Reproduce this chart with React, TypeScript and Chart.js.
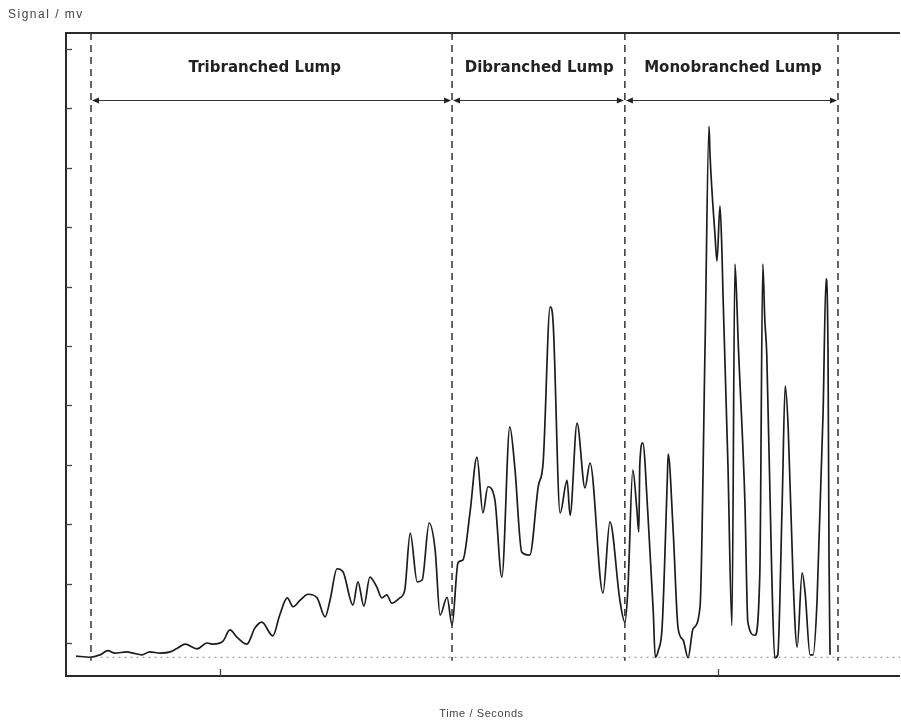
import React, { useEffect, useRef } from "react";
import { Chart, registerables } from "chart.js";

Chart.register(...registerables);

// Time (s) and signal (mV, arbitrary units)
const TIME = [
  21.1, 23.9, 25.9, 27.5, 28.9, 31.3, 32.5, 34.3, 35.9, 38.0, 40.0, 41.6, 43.0, 45.4, 47.4, 48.6,
  50.6, 52.0, 53.4, 55.4, 57.0, 58.4, 60.6, 62.0, 63.5, 64.7, 66.1, 67.7, 69.5, 71.1, 72.1, 73.5,
  74.7, 76.7, 77.7, 78.9, 80.1, 81.5, 82.5, 83.5, 84.5, 86.1, 87.1, 88.2, 89.6, 90.6, 92.0, 93.2,
  94.2, 95.6, 96.6, 97.8, 98.8, 100.2, 101.6, 102.8, 103.8, 105.2, 106.6, 108.2, 109.2, 110.6,
  112.2, 113.9, 114.9, 116.3, 116.9, 118.3, 119.7, 120.3, 121.7, 123.3, 124.3, 126.9, 128.3,
  130.3, 131.3, 131.9, 132.9, 133.7, 134.1, 134.3, 134.9, 135.9, 137.0, 137.4, 138.0, 138.8,
  139.8, 140.0, 141.0, 142.0, 143.0, 144.0, 145.0, 146.4, 147.4, 148.2, 148.4, 149.4, 149.8,
  150.4, 150.8, 151.0, 152.0, 152.8, 153.4, 153.8, 154.0, 155.4, 156.0, 157.4, 158.4, 159.0,
  159.4, 159.8, 160.8, 161.4, 162.0, 162.9, 163.5, 164.1, 165.1, 165.9, 166.9, 167.5, 168.5,
  169.1, 169.9, 171.1, 171.7, 172.1, 172.3, 172.5,
];
const SIGNAL = [
  -0.22, -0.24, -0.2, -0.13, -0.17, -0.15, -0.17, -0.2, -0.15, -0.17, -0.15, -0.08, -0.02, -0.1,
  0.0, -0.02, 0.03, 0.22, 0.1, -0.02, 0.25, 0.35, 0.12, 0.47, 0.76, 0.61, 0.72, 0.82, 0.76, 0.44,
  0.72, 1.25, 1.2, 0.64, 1.03, 0.62, 1.11, 0.94, 0.76, 0.81, 0.67, 0.76, 0.89, 1.85, 1.03, 1.06,
  2.02, 1.57, 0.47, 0.77, 0.3, 1.35, 1.4, 2.19, 3.13, 2.19, 2.63, 2.41, 1.11, 3.64, 2.96, 1.53,
  1.48, 2.63, 3.05, 5.66, 5.39, 2.19, 2.74, 2.15, 3.7, 2.61, 3.03, 0.84, 2.04, 0.72, 0.35, 0.89,
  2.91, 2.26, 1.87, 3.0, 3.37, 2.21, 0.54, -0.24, -0.13, 0.29, 2.69, 3.18, 1.89, 0.24, 0.05,
  -0.25, 0.24, 0.61, 4.97, 8.7, 8.22, 6.87, 6.43, 7.36, 6.57, 5.89, 3.0, 0.29, 6.38, 5.71, 5.2,
  2.39, 0.35, 0.13, 1.16, 6.38, 5.45, 4.85, 1.16, -0.25, -0.2, 2.39, 4.33, 3.62, 1.03, -0.07,
  1.18, 0.84, -0.2, -0.2, 0.72, 3.86, 6.13, 4.85, 1.4, -0.2,
];

const BOUNDARIES = [24.1, 96.6, 131.3, 174.1];
const REGION_LABELS = ["Tribranched Lump", "Dibranched Lump", "Monobranched Lump"];
const LABEL_TIMES = [59.0, 114.1, 153.0];
const Y_TICKS = [0, 1, 2, 3, 4, 5, 6, 7, 8, 9, 10];
const X_TICKS = [50, 150];
const BASELINE = -0.24;
const ARROW_LEVEL = 9.14;
const LABEL_LEVEL = 9.68;
const X_MIN = 19.08;
const X_MAX = 186.55;
const Y_MIN = -0.556;
const Y_MAX = 10.27;
const Y_TITLE = "Signal / mv";
const X_TITLE = "Time / Seconds";

const framePlugin = {
  id: "frame",
  afterDraw(chart: any) {
    const { ctx, chartArea, scales } = chart;
    const xs = scales.x;
    const ys = scales.y;
    const { left, right, top, bottom } = chartArea;
    ctx.save();
    // frame
    ctx.strokeStyle = "#2a2a2a";
    ctx.lineWidth = 2;
    ctx.beginPath();
    ctx.moveTo(right, top);
    ctx.lineTo(left, top);
    ctx.lineTo(left, bottom);
    ctx.lineTo(right, bottom);
    ctx.stroke();
    // y ticks (inward)
    ctx.lineWidth = 1.3;
    ctx.strokeStyle = "#444";
    Y_TICKS.forEach((v) => {
      const y = Math.round(ys.getPixelForValue(v)) + 0.5;
      ctx.beginPath();
      ctx.moveTo(left, y);
      ctx.lineTo(left + 6, y);
      ctx.stroke();
    });
    X_TICKS.forEach((t) => {
      const x = Math.round(xs.getPixelForValue(t)) + 0.5;
      ctx.beginPath();
      ctx.moveTo(x, bottom);
      ctx.lineTo(x, bottom - 7);
      ctx.stroke();
    });
    // arrows
    const ay = Math.round(ys.getPixelForValue(ARROW_LEVEL)) + 0.5;
    ctx.strokeStyle = "#333";
    ctx.fillStyle = "#222";
    ctx.lineWidth = 1.2;
    for (let i = 0; i < BOUNDARIES.length - 1; i++) {
      const x1 = xs.getPixelForValue(BOUNDARIES[i]);
      const x2 = xs.getPixelForValue(BOUNDARIES[i + 1]);
      ctx.beginPath();
      ctx.moveTo(x1 + 2, ay);
      ctx.lineTo(x2 - 2, ay);
      ctx.stroke();
      ctx.beginPath();
      ctx.moveTo(x1 + 1, ay);
      ctx.lineTo(x1 + 8, ay - 3);
      ctx.lineTo(x1 + 8, ay + 3);
      ctx.closePath();
      ctx.fill();
      ctx.beginPath();
      ctx.moveTo(x2 - 1, ay);
      ctx.lineTo(x2 - 8, ay - 3);
      ctx.lineTo(x2 - 8, ay + 3);
      ctx.closePath();
      ctx.fill();
    }
    // region labels
    ctx.fillStyle = "#222";
    ctx.font = "bold 15px 'DejaVu Sans', sans-serif";
    ctx.textAlign = "center";
    ctx.textBaseline = "middle";
    const ly = ys.getPixelForValue(LABEL_LEVEL);
    REGION_LABELS.forEach((s, i) => {
      ctx.fillText(s, xs.getPixelForValue(LABEL_TIMES[i]), ly);
    });
    // titles
    ctx.fillStyle = "#444";
    ctx.font = "12px 'Liberation Sans', Arial, sans-serif";
    ctx.textAlign = "left";
    (ctx as any).letterSpacing = "1.5px";
    ctx.fillText(Y_TITLE, 8, 15);
    ctx.font = "11px 'Liberation Sans', Arial, sans-serif";
    (ctx as any).letterSpacing = "0.6px";
    ctx.textAlign = "center";
    ctx.fillText(X_TITLE, xs.getPixelForValue((X_MIN + X_MAX) / 2 - 0.3), 714);
    (ctx as any).letterSpacing = "0px";
    ctx.restore();
  },
};

export default function App() {
  const ref = useRef<HTMLCanvasElement | null>(null);
  useEffect(() => {
    if (!ref.current) return;
    const boundarySets = BOUNDARIES.map((b) => ({
      data: [
        { x: b, y: Y_MAX },
        { x: b, y: -0.3 },
      ],
      borderColor: "#333",
      borderWidth: 1.5,
      borderDash: [7, 5],
      pointRadius: 0,
    }));
    const chart = new Chart(ref.current, {
      type: "line",
      data: {
        datasets: [
          {
            data: [
              { x: 26, y: BASELINE },
              { x: X_MAX, y: BASELINE },
            ],
            borderColor: "#888",
            borderWidth: 1.2,
            borderDash: [2, 4],
            pointRadius: 0,
          },
          ...boundarySets,
          {
            data: TIME.map((t, i) => ({ x: t, y: SIGNAL[i] })),
            borderColor: "#1c1c1c",
            borderWidth: 1.7,
            pointRadius: 0,
            cubicInterpolationMode: "monotone",
          },
        ],
      },
      options: {
        responsive: false,
        animation: false,
        layout: { padding: { left: 66, top: 33, right: 1, bottom: 47 } },
        plugins: { legend: { display: false }, tooltip: { enabled: false } },
        scales: {
          x: { type: "linear", min: X_MIN, max: X_MAX, display: false },
          y: { type: "linear", min: Y_MIN, max: Y_MAX, display: false },
        },
      },
      plugins: [framePlugin],
    } as any);
    return () => chart.destroy();
  }, []);
  return (
    <div style={{ position: "absolute", left: 0, top: 0, width: 901, height: 723, background: "#fff" }}>
      <canvas ref={ref} width={901} height={723} />
    </div>
  );
}
